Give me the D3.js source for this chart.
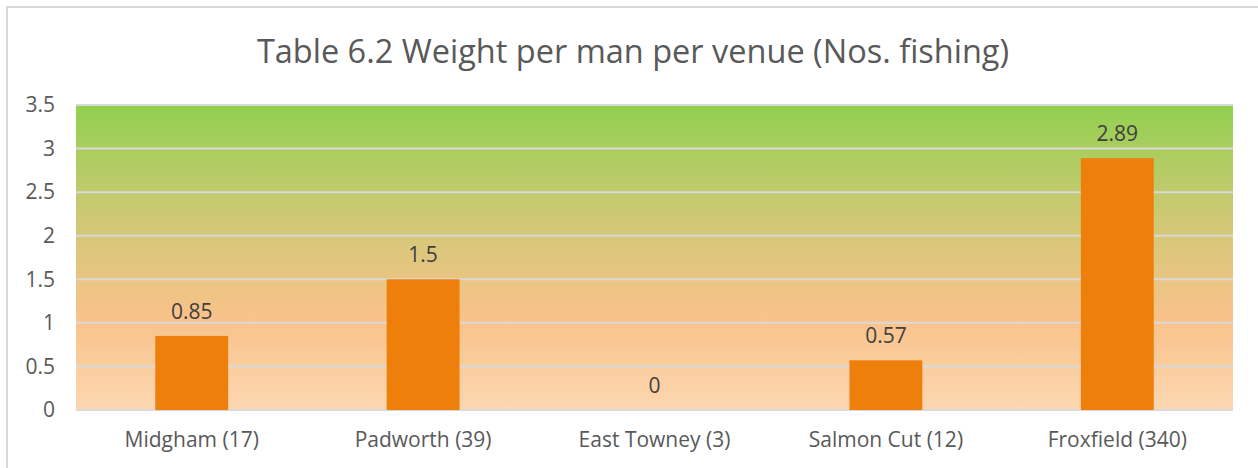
<!DOCTYPE html>
<html>
<head>
<meta charset="utf-8">
<script src="https://cdn.jsdelivr.net/npm/d3@7"></script>
<style>
  body { margin: 0; background: #fff; }
  svg text { font-family: "Open Sans", "Noto Sans", sans-serif; }
</style>
</head>
<body>
<div id="chart"></div>
<script>
// Chart data
const venues = ["Midgham (17)", "Padworth (39)", "East Towney (3)", "Salmon Cut (12)", "Froxfield (340)"];
const weights = [0.85, 1.5, 0, 0.57, 2.89];
const yTicks = [0, 0.5, 1, 1.5, 2, 2.5, 3, 3.5];
const yTickLabels = ["0", "0.5", "1", "1.5", "2", "2.5", "3", "3.5"];

const width = 1258;
const height = 468;
const margin = { top: 105, right: 25, bottom: 58, left: 76 };

const svg = d3.select("#chart")
    .append("svg")
    .attr("width", width)
    .attr("height", height);

// outer chart border (right/bottom edges fall outside the picture)
svg.append("rect")
    .attr("x", 7).attr("y", 7)
    .attr("width", width + 10).attr("height", height + 10)
    .attr("fill", "#fff")
    .attr("stroke", "#d9d9d9")
    .attr("stroke-width", 2);

const x = d3.scaleBand()
    .domain(venues)
    .range([margin.left, width - margin.right])
    .paddingInner(0.685)
    .paddingOuter(0.3425);

const y = d3.scaleLinear()
    .domain([0, 3.5])
    .range([height - margin.bottom, margin.top]);

// plot area gradient
const defs = svg.append("defs");
const grad = defs.append("linearGradient")
    .attr("id", "bg")
    .attr("x1", 0).attr("y1", 0).attr("x2", 0).attr("y2", 1);
grad.append("stop").attr("offset", "0%").attr("stop-color", "#92d050");
grad.append("stop").attr("offset", "40%").attr("stop-color", "#d3c877");
grad.append("stop").attr("offset", "70%").attr("stop-color", "#f9c28a");
grad.append("stop").attr("offset", "100%").attr("stop-color", "#fcd7b1");

svg.append("rect")
    .attr("x", margin.left)
    .attr("y", y(3.5))
    .attr("width", width - margin.right - margin.left)
    .attr("height", y(0) - y(3.5))
    .attr("fill", "url(#bg)");

// gridlines
svg.append("g")
    .selectAll("line")
    .data(yTicks)
    .enter()
    .append("line")
    .attr("x1", margin.left)
    .attr("x2", width - margin.right)
    .attr("y1", d => y(d))
    .attr("y2", d => y(d))
    .attr("stroke", "#d9d9d9")
    .attr("stroke-width", 2);

// y axis labels
const yAxis = svg.append("g")
    .attr("transform", `translate(${margin.left}, 0)`)
    .call(d3.axisLeft(y).tickValues(yTicks).tickFormat((d, i) => yTickLabels[i]).tickSize(0).tickPadding(21));
yAxis.select(".domain").remove();
yAxis.selectAll("text")
    .attr("fill", "#595959")
    .attr("font-size", 21);

// x axis labels
const xAxis = svg.append("g")
    .attr("transform", `translate(0, ${y(0)})`)
    .call(d3.axisBottom(x).tickSize(0).tickPadding(22));
xAxis.select(".domain").remove();
xAxis.selectAll("text")
    .attr("fill", "#595959")
    .attr("font-size", 21);

// bars
svg.append("g")
    .selectAll("rect")
    .data(weights)
    .enter()
    .append("rect")
    .attr("x", (d, i) => x(venues[i]))
    .attr("y", d => y(d))
    .attr("width", x.bandwidth())
    .attr("height", d => y(0) - y(d))
    .attr("fill", "#ef7f0b");

// data labels
svg.append("g")
    .selectAll("text")
    .data(weights)
    .enter()
    .append("text")
    .attr("x", (d, i) => x(venues[i]) + x.bandwidth() / 2)
    .attr("y", d => y(d) - 17)
    .attr("text-anchor", "middle")
    .attr("fill", "#404040")
    .attr("font-size", 21)
    .text(d => d);

// title
svg.append("text")
    .attr("x", 633)
    .attr("y", 63)
    .attr("text-anchor", "middle")
    .attr("fill", "#595959")
    .attr("font-size", 32.5)
    .text("Table 6.2 Weight per man per venue (Nos. fishing)");
</script>
</body>
</html>
